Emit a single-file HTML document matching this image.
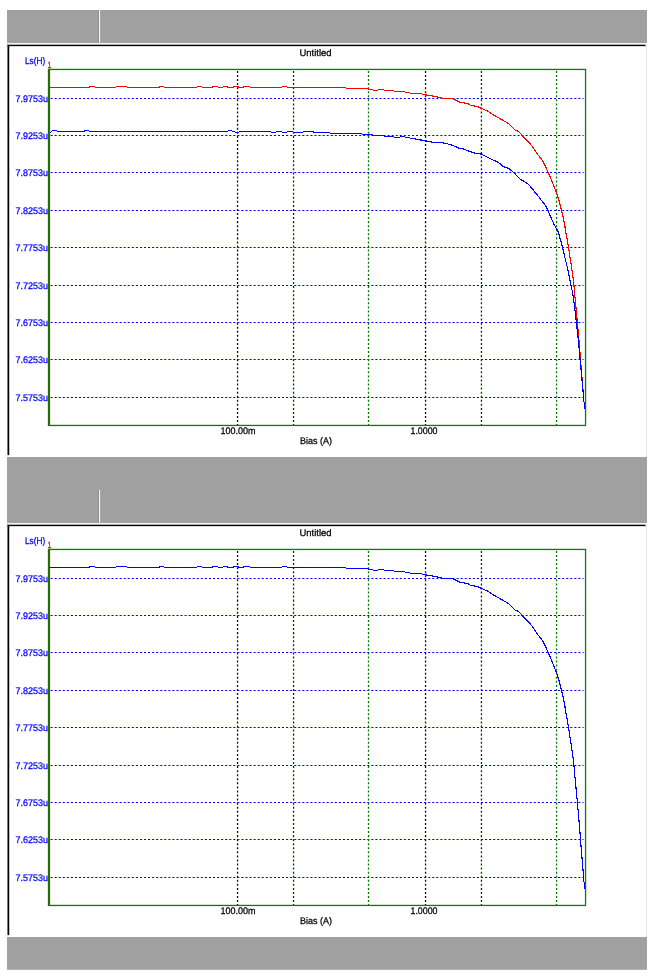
<!DOCTYPE html>
<html><head><meta charset="utf-8"><title>Untitled</title>
<style>
html,body{margin:0;padding:0;background:#fff;}
svg{display:block;font-family:"Liberation Sans",sans-serif;text-rendering:geometricPrecision;}
text{stroke-width:0.27px;paint-order:stroke;}
</style></head><body>
<svg width="657" height="978" viewBox="0 0 657 978">
<rect width="657" height="978" fill="#fff"/>
<rect x="7" y="10" width="640" height="32.8" fill="#a0a0a0"/>
<rect x="7" y="42" width="640" height="0.8" fill="#848484"/>
<rect x="7" y="42.8" width="640" height="1.6" fill="#f6f6f6"/>
<rect x="98.3" y="10" width="0.7" height="32.8" fill="#858585"/>
<rect x="98.95" y="10" width="1.15" height="33.5" fill="#f4f4f4"/>
<rect x="7.2" y="44.4" width="638.4" height="1.7" fill="#808080"/>
<rect x="7.2" y="44.4" width="1.9" height="410.70000000000005" fill="#808080"/>
<rect x="7.8" y="45" width="637.7" height="1.1" fill="#000"/>
<rect x="7.8" y="45" width="1.4" height="410.1" fill="#000"/>
<rect x="645.9" y="44.6" width="1.1" height="412.4" fill="#e6e6e6"/>
<line x1="50.6" x2="583.6" y1="98.50" y2="98.50" stroke="#0000ff" stroke-width="1.2" stroke-dasharray="2.03 2.03"/>
<line x1="50.6" x2="583.6" y1="135.50" y2="135.50" stroke="#0000ff" stroke-width="1.2" stroke-dasharray="2.03 2.03"/>
<line x1="50.6" x2="583.6" y1="172.50" y2="172.50" stroke="#0000ff" stroke-width="1.2" stroke-dasharray="2.03 2.03"/>
<line x1="50.6" x2="583.6" y1="210.50" y2="210.50" stroke="#0000ff" stroke-width="1.2" stroke-dasharray="2.03 2.03"/>
<line x1="50.6" x2="583.6" y1="247.50" y2="247.50" stroke="#0000ff" stroke-width="1.2" stroke-dasharray="2.03 2.03"/>
<line x1="50.6" x2="583.6" y1="285.50" y2="285.50" stroke="#0000ff" stroke-width="1.2" stroke-dasharray="2.03 2.03"/>
<line x1="50.6" x2="583.6" y1="322.50" y2="322.50" stroke="#0000ff" stroke-width="1.2" stroke-dasharray="2.03 2.03"/>
<line x1="50.6" x2="583.6" y1="359.50" y2="359.50" stroke="#0000ff" stroke-width="1.2" stroke-dasharray="2.03 2.03"/>
<line x1="50.6" x2="583.6" y1="397.50" y2="397.50" stroke="#0000ff" stroke-width="1.2" stroke-dasharray="2.03 2.03"/>
<line x1="237.55" x2="237.55" y1="70.9" y2="425" stroke="#001800" stroke-width="1.3" stroke-dasharray="2.03 2.03"/>
<line x1="293.55" x2="293.55" y1="70.9" y2="425" stroke="#003800" stroke-width="1.3" stroke-dasharray="2.03 2.03"/>
<line x1="368.5" x2="368.5" y1="70.9" y2="425" stroke="#007800" stroke-width="1.3" stroke-dasharray="2.03 2.03"/>
<line x1="425.55" x2="425.55" y1="70.9" y2="425" stroke="#001800" stroke-width="1.3" stroke-dasharray="2.03 2.03"/>
<line x1="481.45" x2="481.45" y1="70.9" y2="425" stroke="#003800" stroke-width="1.3" stroke-dasharray="2.03 2.03"/>
<line x1="556.55" x2="556.55" y1="70.9" y2="425" stroke="#007800" stroke-width="1.3" stroke-dasharray="2.03 2.03"/>
<rect x="48.5" y="69.45" width="537.05" height="356.0" fill="none" stroke="#008000" stroke-width="1.3"/>
<line x1="49.5" x2="49.5" y1="69.2" y2="425" stroke="#ff0000" stroke-width="1.2"/>
<polyline points="49.50,87.50 89.10,87.50 89.90,86.50 94.60,86.50 95.40,87.50 115.60,87.50 116.40,86.50 126.60,86.50 127.40,87.50 159.10,87.50 159.90,86.50 163.60,86.50 164.40,87.50 196.60,87.50 197.40,86.50 201.60,86.50 202.40,87.50 212.10,87.50 212.90,86.50 217.60,86.50 218.40,87.50 222.60,87.50 223.40,86.50 227.10,86.50 227.90,87.50 233.35,87.50 234.15,86.50 238.35,86.50 239.15,87.50 243.35,87.50 244.15,86.50 249.60,86.50 250.40,87.50 281.60,87.50 282.40,86.50 286.60,86.50 287.40,87.50 345.60,87.50 346.40,88.50 368.10,88.50 368.90,89.40 372.60,89.40 373.40,90.40 377.60,90.40 378.40,89.40 383.60,89.40 384.40,90.40 393.60,90.40 394.40,91.50 404.60,91.50 405.40,92.40 409.60,92.40 410.40,93.40 415.60,93.40 416.00,93.50 421.00,93.75 426.00,95.00 432.25,96.00 437.25,97.00 442.25,98.10 451.60,98.25 456.00,100.25 459.75,102.25 467.25,103.50 471.00,105.40 477.25,106.50 482.25,108.75 487.25,111.00 488.90,111.90 493.80,115.10 500.60,119.00 508.40,123.40 515.20,130.20 518.60,131.40 522.00,135.20 526.90,140.10 531.80,145.80 536.60,153.10 542.50,160.40 545.90,167.20 548.20,172.60 551.00,178.90 553.50,185.10 555.70,190.75 557.60,195.75 559.40,202.00 561.60,210.75 563.50,218.90 564.75,225.10 565.70,232.00 567.60,241.40 568.60,248.25 569.60,254.50 570.70,261.40 571.60,267.60 572.60,274.50 573.50,281.40 574.40,289.50 574.60,293.50 575.50,302.50 576.50,313.00 577.50,323.40 578.50,335.00 579.50,347.00 580.50,359.00 581.50,372.00 582.50,384.00 583.50,396.00 583.50,401.60 584.50,402.40 584.50,409.30" fill="none" stroke="#ff0000" stroke-width="1.15" stroke-linejoin="round" shape-rendering="crispEdges"/>
<polyline points="49.50,132.50 50.60,132.50 51.40,131.50 51.60,131.50 52.40,130.50 56.60,130.50 57.40,131.50 84.10,131.50 84.90,130.50 88.60,130.50 89.40,131.50 227.60,131.50 228.40,130.50 231.60,130.50 232.40,131.50 234.60,131.50 235.40,132.50 238.60,132.50 239.40,131.50 270.60,131.50 271.40,132.50 275.60,132.50 276.40,131.50 281.60,131.50 282.40,132.50 286.60,132.50 287.40,131.50 292.60,131.50 293.40,132.50 302.60,132.50 303.40,131.50 313.10,131.50 313.90,132.50 329.60,132.50 330.40,133.60 361.60,133.60 362.40,134.60 372.60,134.60 373.40,135.50 383.60,135.50 384.40,136.50 393.60,136.50 394.40,137.50 399.60,137.50 400.40,136.50 404.60,136.50 405.40,137.50 409.60,137.50 410.40,138.50 415.60,138.50 416.00,139.40 421.00,140.00 426.00,141.00 432.25,142.25 441.00,142.50 447.25,143.75 452.25,145.25 459.75,148.50 463.50,149.00 471.00,151.90 476.00,153.50 481.00,154.10 486.00,156.50 491.80,159.40 498.20,162.30 503.50,166.70 508.90,168.60 513.75,172.50 520.10,179.10 524.90,181.80 528.50,184.50 532.25,188.60 536.30,193.90 539.40,197.60 542.60,202.00 545.70,205.75 547.90,210.40 551.00,217.60 554.10,224.50 556.60,228.90 558.20,232.00 562.60,247.30 564.75,257.00 567.25,267.00 569.40,277.00 571.00,285.75 572.50,292.00 573.50,298.00 574.50,306.50 575.50,315.00 576.50,324.00 577.50,332.00 578.50,342.00 579.50,352.00 580.50,363.00 581.50,374.00 582.50,385.50 583.50,396.50 583.50,401.60 584.50,402.40 584.50,408.50" fill="none" stroke="#0000ff" stroke-width="1.15" stroke-linejoin="round" shape-rendering="crispEdges"/>
<text x="299.5" y="55.5" textLength="32" lengthAdjust="spacingAndGlyphs" fill="#000" stroke="#000" font-size="9.6" text-anchor="start">Untitled</text>
<text x="25" y="63.75" textLength="20.25" lengthAdjust="spacingAndGlyphs" fill="#0000ff" stroke="#0000ff" font-size="9.6" text-anchor="start">Ls(H)</text>
<text x="47.6" y="67.75" textLength="3.9" lengthAdjust="spacingAndGlyphs" fill="#ff0000" stroke="#ff0000" font-size="9" text-anchor="start">1</text>
<text x="15.6" y="101.9" textLength="32.5" lengthAdjust="spacingAndGlyphs" fill="#0000ff" stroke="#0000ff" font-size="9.6" text-anchor="start">7.9753u</text>
<text x="15.6" y="138.9" textLength="32.5" lengthAdjust="spacingAndGlyphs" fill="#0000ff" stroke="#0000ff" font-size="9.6" text-anchor="start">7.9253u</text>
<text x="15.6" y="175.9" textLength="32.5" lengthAdjust="spacingAndGlyphs" fill="#0000ff" stroke="#0000ff" font-size="9.6" text-anchor="start">7.8753u</text>
<text x="15.6" y="213.9" textLength="32.5" lengthAdjust="spacingAndGlyphs" fill="#0000ff" stroke="#0000ff" font-size="9.6" text-anchor="start">7.8253u</text>
<text x="15.6" y="250.9" textLength="32.5" lengthAdjust="spacingAndGlyphs" fill="#0000ff" stroke="#0000ff" font-size="9.6" text-anchor="start">7.7753u</text>
<text x="15.6" y="288.9" textLength="32.5" lengthAdjust="spacingAndGlyphs" fill="#0000ff" stroke="#0000ff" font-size="9.6" text-anchor="start">7.7253u</text>
<text x="15.6" y="325.9" textLength="32.5" lengthAdjust="spacingAndGlyphs" fill="#0000ff" stroke="#0000ff" font-size="9.6" text-anchor="start">7.6753u</text>
<text x="15.6" y="362.9" textLength="32.5" lengthAdjust="spacingAndGlyphs" fill="#0000ff" stroke="#0000ff" font-size="9.6" text-anchor="start">7.6253u</text>
<text x="15.6" y="400.9" textLength="32.5" lengthAdjust="spacingAndGlyphs" fill="#0000ff" stroke="#0000ff" font-size="9.6" text-anchor="start">7.5753u</text>
<text x="220.5" y="433.75" textLength="35" lengthAdjust="spacingAndGlyphs" fill="#000" stroke="#000" font-size="9.6" text-anchor="start">100.00m</text>
<text x="410.5" y="433.75" textLength="27" lengthAdjust="spacingAndGlyphs" fill="#000" stroke="#000" font-size="9.6" text-anchor="start">1.0000</text>
<text x="300" y="443.75" textLength="32" lengthAdjust="spacingAndGlyphs" fill="#000" stroke="#000" font-size="9.6" text-anchor="start">Bias (A)</text>
<rect x="7" y="457" width="640" height="34" fill="#a0a0a0"/>
<rect x="7" y="490" width="640" height="32.8" fill="#a0a0a0"/>
<rect x="7" y="522" width="640" height="0.8" fill="#848484"/>
<rect x="7" y="522.8" width="640" height="1.6" fill="#f6f6f6"/>
<rect x="98.3" y="490" width="0.7" height="32.8" fill="#858585"/>
<rect x="98.95" y="490" width="1.15" height="33.5" fill="#f4f4f4"/>
<rect x="7.2" y="524.4" width="638.4" height="1.7" fill="#808080"/>
<rect x="7.2" y="524.4" width="1.9" height="410.70000000000005" fill="#808080"/>
<rect x="7.8" y="525" width="637.7" height="1.1" fill="#000"/>
<rect x="7.8" y="525" width="1.4" height="410.1" fill="#000"/>
<rect x="645.9" y="524.6" width="1.1" height="412.4" fill="#e6e6e6"/>
<line x1="50.6" x2="583.6" y1="578.50" y2="578.50" stroke="#0000ff" stroke-width="1.2" stroke-dasharray="2.03 2.03"/>
<line x1="50.6" x2="583.6" y1="615.50" y2="615.50" stroke="#0000ff" stroke-width="1.2" stroke-dasharray="2.03 2.03"/>
<line x1="50.6" x2="583.6" y1="652.50" y2="652.50" stroke="#0000ff" stroke-width="1.2" stroke-dasharray="2.03 2.03"/>
<line x1="50.6" x2="583.6" y1="690.50" y2="690.50" stroke="#0000ff" stroke-width="1.2" stroke-dasharray="2.03 2.03"/>
<line x1="50.6" x2="583.6" y1="727.50" y2="727.50" stroke="#0000ff" stroke-width="1.2" stroke-dasharray="2.03 2.03"/>
<line x1="50.6" x2="583.6" y1="765.50" y2="765.50" stroke="#0000ff" stroke-width="1.2" stroke-dasharray="2.03 2.03"/>
<line x1="50.6" x2="583.6" y1="802.50" y2="802.50" stroke="#0000ff" stroke-width="1.2" stroke-dasharray="2.03 2.03"/>
<line x1="50.6" x2="583.6" y1="839.50" y2="839.50" stroke="#0000ff" stroke-width="1.2" stroke-dasharray="2.03 2.03"/>
<line x1="50.6" x2="583.6" y1="877.50" y2="877.50" stroke="#0000ff" stroke-width="1.2" stroke-dasharray="2.03 2.03"/>
<line x1="237.55" x2="237.55" y1="550.9" y2="905" stroke="#001800" stroke-width="1.3" stroke-dasharray="2.03 2.03"/>
<line x1="293.55" x2="293.55" y1="550.9" y2="905" stroke="#003800" stroke-width="1.3" stroke-dasharray="2.03 2.03"/>
<line x1="368.5" x2="368.5" y1="550.9" y2="905" stroke="#007800" stroke-width="1.3" stroke-dasharray="2.03 2.03"/>
<line x1="425.55" x2="425.55" y1="550.9" y2="905" stroke="#001800" stroke-width="1.3" stroke-dasharray="2.03 2.03"/>
<line x1="481.45" x2="481.45" y1="550.9" y2="905" stroke="#003800" stroke-width="1.3" stroke-dasharray="2.03 2.03"/>
<line x1="556.55" x2="556.55" y1="550.9" y2="905" stroke="#007800" stroke-width="1.3" stroke-dasharray="2.03 2.03"/>
<rect x="48.5" y="549.45" width="537.05" height="356.0" fill="none" stroke="#008000" stroke-width="1.3"/>
<line x1="49.5" x2="49.5" y1="549.2" y2="905" stroke="#ff0000" stroke-width="1.2"/>
<polyline points="49.50,567.50 89.10,567.50 89.90,566.50 94.60,566.50 95.40,567.50 115.60,567.50 116.40,566.50 126.60,566.50 127.40,567.50 159.10,567.50 159.90,566.50 163.60,566.50 164.40,567.50 196.60,567.50 197.40,566.50 201.60,566.50 202.40,567.50 212.10,567.50 212.90,566.50 217.60,566.50 218.40,567.50 222.60,567.50 223.40,566.50 227.10,566.50 227.90,567.50 233.35,567.50 234.15,566.50 238.35,566.50 239.15,567.50 243.35,567.50 244.15,566.50 249.60,566.50 250.40,567.50 281.60,567.50 282.40,566.50 286.60,566.50 287.40,567.50 345.60,567.50 346.40,568.50 368.10,568.50 368.90,569.40 372.60,569.40 373.40,570.40 377.60,570.40 378.40,569.40 383.60,569.40 384.40,570.40 393.60,570.40 394.40,571.50 404.60,571.50 405.40,572.40 409.60,572.40 410.40,573.40 415.60,573.40 416.00,573.50 421.00,573.75 426.00,575.00 432.25,576.00 437.25,577.00 442.25,578.10 451.60,578.25 456.00,580.25 459.75,582.25 467.25,583.50 471.00,585.40 477.25,586.50 482.25,588.75 487.25,591.00 488.90,591.90 493.80,595.10 500.60,599.00 508.40,603.40 515.20,610.20 518.60,611.40 522.00,615.20 526.90,620.10 531.80,625.80 536.60,633.10 542.50,640.40 545.90,647.20 548.20,652.60 551.00,658.90 553.50,665.10 555.70,670.75 557.60,675.75 559.40,682.00 561.60,690.75 563.50,698.90 564.75,705.10 565.70,712.00 567.60,721.40 568.60,728.25 569.60,734.50 570.70,741.40 571.60,747.60 572.60,754.50 573.50,761.40 574.40,769.50 574.60,773.50 575.50,782.50 576.50,793.00 577.50,803.40 578.50,815.00 579.50,827.00 580.50,839.00 581.50,852.00 582.50,864.00 583.50,876.00 583.50,881.60 584.50,882.40 584.50,889.30" fill="none" stroke="#0000ff" stroke-width="1.15" stroke-linejoin="round" shape-rendering="crispEdges"/>
<text x="299.5" y="535.5" textLength="32" lengthAdjust="spacingAndGlyphs" fill="#000" stroke="#000" font-size="9.6" text-anchor="start">Untitled</text>
<text x="25" y="543.75" textLength="20.25" lengthAdjust="spacingAndGlyphs" fill="#0000ff" stroke="#0000ff" font-size="9.6" text-anchor="start">Ls(H)</text>
<text x="47.6" y="547.75" textLength="3.9" lengthAdjust="spacingAndGlyphs" fill="#ff0000" stroke="#ff0000" font-size="9" text-anchor="start">1</text>
<text x="15.6" y="581.9" textLength="32.5" lengthAdjust="spacingAndGlyphs" fill="#0000ff" stroke="#0000ff" font-size="9.6" text-anchor="start">7.9753u</text>
<text x="15.6" y="618.9" textLength="32.5" lengthAdjust="spacingAndGlyphs" fill="#0000ff" stroke="#0000ff" font-size="9.6" text-anchor="start">7.9253u</text>
<text x="15.6" y="655.9" textLength="32.5" lengthAdjust="spacingAndGlyphs" fill="#0000ff" stroke="#0000ff" font-size="9.6" text-anchor="start">7.8753u</text>
<text x="15.6" y="693.9" textLength="32.5" lengthAdjust="spacingAndGlyphs" fill="#0000ff" stroke="#0000ff" font-size="9.6" text-anchor="start">7.8253u</text>
<text x="15.6" y="730.9" textLength="32.5" lengthAdjust="spacingAndGlyphs" fill="#0000ff" stroke="#0000ff" font-size="9.6" text-anchor="start">7.7753u</text>
<text x="15.6" y="768.9" textLength="32.5" lengthAdjust="spacingAndGlyphs" fill="#0000ff" stroke="#0000ff" font-size="9.6" text-anchor="start">7.7253u</text>
<text x="15.6" y="805.9" textLength="32.5" lengthAdjust="spacingAndGlyphs" fill="#0000ff" stroke="#0000ff" font-size="9.6" text-anchor="start">7.6753u</text>
<text x="15.6" y="842.9" textLength="32.5" lengthAdjust="spacingAndGlyphs" fill="#0000ff" stroke="#0000ff" font-size="9.6" text-anchor="start">7.6253u</text>
<text x="15.6" y="880.9" textLength="32.5" lengthAdjust="spacingAndGlyphs" fill="#0000ff" stroke="#0000ff" font-size="9.6" text-anchor="start">7.5753u</text>
<text x="220.5" y="913.75" textLength="35" lengthAdjust="spacingAndGlyphs" fill="#000" stroke="#000" font-size="9.6" text-anchor="start">100.00m</text>
<text x="410.5" y="913.75" textLength="27" lengthAdjust="spacingAndGlyphs" fill="#000" stroke="#000" font-size="9.6" text-anchor="start">1.0000</text>
<text x="300" y="923.75" textLength="32" lengthAdjust="spacingAndGlyphs" fill="#000" stroke="#000" font-size="9.6" text-anchor="start">Bias (A)</text>
<rect x="7" y="937" width="640" height="32.8" fill="#a0a0a0"/>
</svg>
</body></html>
